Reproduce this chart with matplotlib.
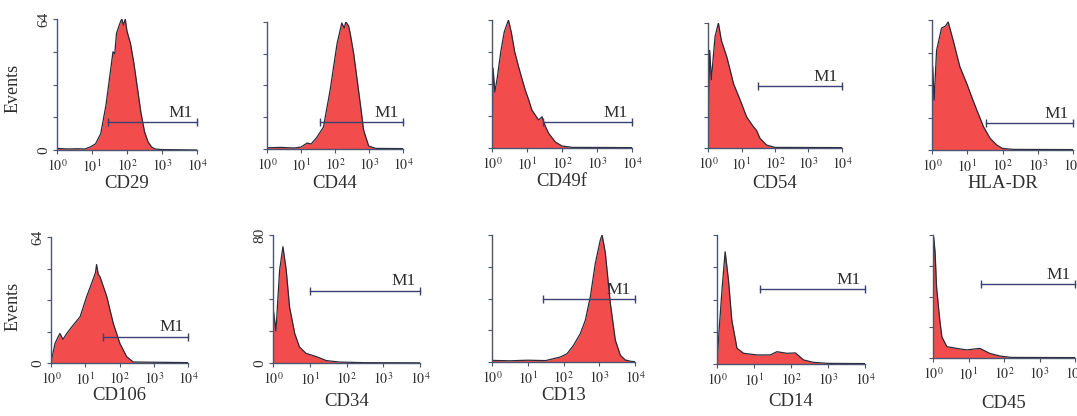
import numpy as np
import matplotlib
matplotlib.use("Agg")
import matplotlib.pyplot as plt
from matplotlib.ticker import LogLocator

plt.rcParams['font.family'] = ['Liberation Serif', 'DejaVu Serif']
plt.rcParams['mathtext.fontset'] = 'stix'

# marker names, one per panel (row by row)
markers = ["CD29", "CD44", "CD49f", "CD54", "HLA-DR",
           "CD106", "CD34", "CD13", "CD14", "CD45"]
y_max = [64, 64, 64, 64, 64, 64, 80, 64, 64, 64]

# histogram outlines: log10 fluorescence and event counts
cd29_L = [0.0, 0.3, 0.6, 0.8, 0.95, 1.1, 1.25, 1.4, 1.5, 1.6, 1.65, 1.7, 1.8, 1.85, 1.9, 1.95, 2.0, 2.1, 2.2, 2.3, 2.4, 2.5, 2.6, 2.7, 2.8, 3.0, 4.0]
cd29_n = [0.8, 0.5, 0.6, 0.5, 1.5, 3, 8, 22, 35, 48, 47, 57, 62, 64, 61, 64, 58, 52, 42, 30, 18, 9, 4, 1.5, 0.5, 0.2, 0]

cd44_L = [0.0, 0.4, 0.8, 1.0, 1.18, 1.3, 1.47, 1.66, 1.86, 2.06, 2.2, 2.27, 2.32, 2.4, 2.45, 2.55, 2.65, 2.75, 2.84, 2.99, 3.2, 4.0]
cd44_n = [0.6, 0.8, 0.5, 1.0, 3.0, 2.5, 6, 11, 30, 53, 63.5, 61, 64, 62, 58, 48, 35, 22, 9.6, 1.5, 0.3, 0.2]

cd49f_L = [0.0, 0.03, 0.08, 0.15, 0.25, 0.35, 0.47, 0.55, 0.65, 0.76, 0.85, 0.95, 1.05, 1.14, 1.33, 1.43, 1.52, 1.62, 1.81, 2.0, 2.3, 4.0]
cd49f_n = [0, 40, 28, 35, 48, 58, 64, 58, 48, 40.6, 35, 29, 24, 19, 14, 15.6, 11, 7.3, 3, 1, 0.3, 0.2]

cd54_L = [0.0, 0.05, 0.1, 0.21, 0.31, 0.4, 0.56, 0.66, 0.76, 0.96, 1.15, 1.35, 1.45, 1.55, 1.75, 2.0, 4.0]
cd54_n = [0, 50, 35, 57, 64, 55, 46.7, 40, 33, 24.6, 16, 11, 9, 5, 1.5, 0.3, 0.2]

hladr_L = [0.0, 0.02, 0.06, 0.13, 0.27, 0.38, 0.46, 0.6, 0.79, 0.98, 1.13, 1.27, 1.46, 1.65, 1.84, 2.0, 2.3, 4.0]
hladr_n = [0, 41, 24.6, 49, 60, 61, 63, 54, 41, 33, 26, 19.7, 11.5, 5.7, 2.4, 0.8, 0.3, 0.2]

cd106_L = [0.0, 0.02, 0.12, 0.2, 0.26, 0.35, 0.46, 0.65, 0.85, 1.04, 1.24, 1.3, 1.33, 1.38, 1.43, 1.63, 1.82, 2.01, 2.21, 2.4, 4.0]
cd106_n = [0, 2, 10, 13, 15, 12, 15, 19.3, 23.5, 33.7, 43, 46, 50, 45, 43.8, 33.7, 20, 10, 3.2, 0.5, 0.2]

cd34_L = [0.0, 0.01, 0.08, 0.18, 0.27, 0.36, 0.45, 0.59, 0.72, 0.9, 1.18, 1.45, 1.8, 2.5, 4.0]
cd34_n = [0, 33, 20, 58, 72.7, 58, 35, 18.5, 10, 6, 4, 1.5, 0.6, 0.2, 0.1]

cd13_L = [0.0, 0.5, 1.0, 1.5, 1.91, 2.1, 2.28, 2.47, 2.61, 2.75, 2.89, 3.03, 3.08, 3.17, 3.31, 3.45, 3.59, 3.73, 3.9, 4.0]
cd13_n = [0.8, 0.6, 0.9, 0.7, 2.5, 4.2, 8.4, 14.3, 21, 32.8, 49.7, 61.5, 64, 55, 29.6, 11, 3.4, 1, 0.3, 0.2]

cd14_L = [0.0, 0.05, 0.14, 0.22, 0.31, 0.4, 0.54, 0.72, 1.08, 1.44, 1.62, 1.89, 2.12, 2.34, 2.61, 3.0, 4.0]
cd14_n = [0, 15, 38, 55.7, 41.7, 21.8, 7.8, 5.3, 4.5, 4.5, 6.1, 5.3, 5.5, 2, 0.8, 0.3, 0.2]

cd45_L = [0.0, 0.02, 0.06, 0.1, 0.18, 0.25, 0.39, 0.67, 0.95, 1.32, 1.6, 1.89, 2.2, 4.0]
cd45_n = [0, 63, 54.5, 37, 21.5, 11, 5.9, 5, 4.2, 5, 2.4, 1, 0.3, 0.2]

curves_L = [cd29_L, cd44_L, cd49f_L, cd54_L, hladr_L, cd106_L, cd34_L, cd13_L, cd14_L, cd45_L]
curves_n = [cd29_n, cd44_n, cd49f_n, cd54_n, hladr_n, cd106_n, cd34_n, cd13_n, cd14_n, cd45_n]

# M1 gates: start (log10), end (log10), height (events)
m1_start = [1.46, 1.55, 1.46, 1.5, 1.53, 1.51, 1.01, 1.43, 1.17, 1.34]
m1_end = [4.0] * 10
m1_level = [13.6, 13.5, 12.9, 31.7, 13.1, 13.4, 45.2, 31.8, 37.2, 38.3]

# panel boxes in pixels: left, right, top, bottom
boxes = [(57, 197, 19, 150), (267, 403, 22, 149), (492, 632, 20, 148),
         (708, 842, 23, 148), (932, 1073, 20, 150),
         (51, 188, 237, 363), (273, 420, 235, 363), (492, 635, 235, 362),
         (717, 865, 235, 364), (933, 1075, 235, 358)]
label_y = [183, 183, 181, 183, 183, 395, 402, 396, 402, 403]

W, H = 1077, 416
axis_col = '#4a5570'
text_col = '#2e2e2e'
fill_col = '#f24c4c'
gate_col = '#3c4270'

fig = plt.figure(figsize=(W / 100, H / 100), dpi=100)

for i, name in enumerate(markers):
    l, r, t, b = boxes[i]
    ax = fig.add_axes([l / W, 1 - b / H, (r - l) / W, (b - t) / H])
    x = 10 ** np.array(curves_L[i])
    n = np.array(curves_n[i])
    ax.fill_between(x, 0, n, color=fill_col, lw=0)
    ax.plot(x, n, color='#2a2a38', lw=0.9)
    ax.set_xscale('log')
    ax.set_xlim(1, 1e4)
    ax.set_ylim(0, y_max[i])
    for s in ['top', 'right']:
        ax.spines[s].set_visible(False)
    for s in ['left', 'bottom']:
        ax.spines[s].set_color(axis_col)
        ax.spines[s].set_linewidth(1.0)
    ax.set_xticks([1, 10, 100, 1000, 10000])
    ax.set_xticklabels([r'$10^{%d}$' % k for k in range(5)])
    ax.xaxis.set_minor_locator(LogLocator(base=10, subs=(2, 4, 6, 8)))
    ax.xaxis.set_minor_formatter(plt.NullFormatter())
    ax.set_yticks(np.linspace(0, y_max[i], 5))
    if i in (0, 5, 6):
        ax.set_yticklabels(['0', '', '', '', str(y_max[i])], rotation=90,
                           va='center', fontsize=11, color=text_col)
    else:
        ax.set_yticklabels([])
    ax.tick_params(axis='both', direction='out', length=3, width=0.8,
                   color=axis_col, pad=2)
    ax.tick_params(axis='x', which='minor', direction='inout', length=2.5,
                   width=0.6, color=axis_col)
    ax.tick_params(axis='x', labelsize=10, labelcolor=text_col, pad=3)

    # M1 gate
    xs = [10 ** m1_start[i], 10 ** m1_end[i]]
    ax.plot(xs, [m1_level[i]] * 2, color=gate_col, lw=1.0, marker='|',
            markersize=6, clip_on=False)
    ax.annotate('M1', xy=(xs[1], m1_level[i]), xytext=(-3, 1),
                textcoords='offset points', ha='right', va='bottom',
                fontsize=12.5, color=text_col)

    fig.text((l + r) / 2 / W, 1 - label_y[i] / H, name, ha='center',
             va='center', fontsize=13.5, color=text_col)

fig.text(13 / W, 1 - 88 / H, 'Events', rotation=90, ha='center', va='center',
         fontsize=13, color=text_col)
fig.text(13 / W, 1 - 306 / H, 'Events', rotation=90, ha='center', va='center',
         fontsize=13, color=text_col)

fig.savefig('out.png', dpi=100)
